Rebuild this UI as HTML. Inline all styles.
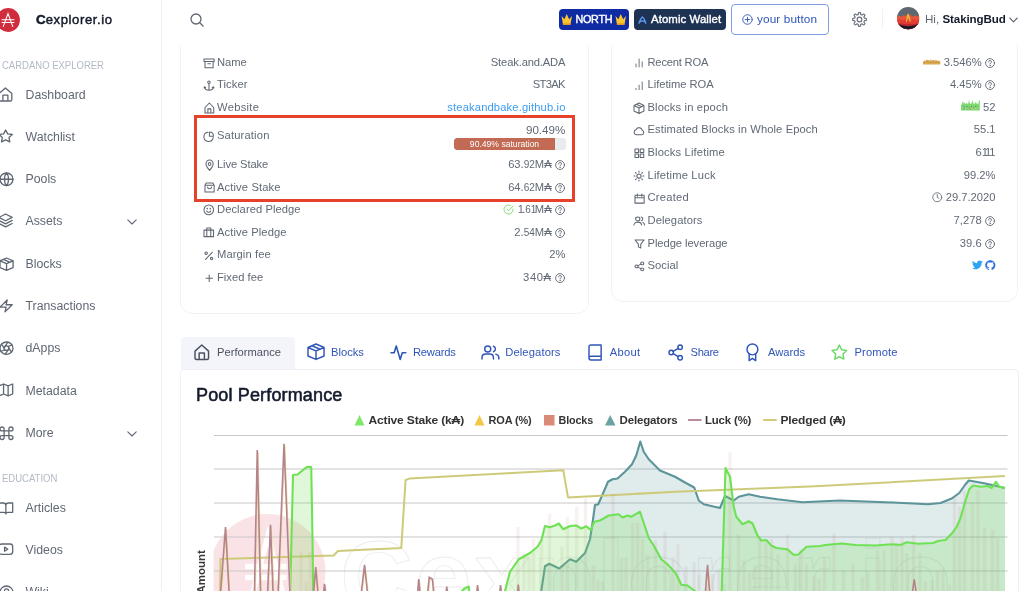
<!DOCTYPE html>
<html>
<head>
<meta charset="utf-8">
<title>Cexplorer.io</title>
<style>
*{box-sizing:border-box;margin:0;padding:0}
html,body{width:1024px;height:591px;overflow:hidden;background:#fff}
body{font-family:"Liberation Sans",sans-serif;color:#5e6773;position:relative}
.abs{position:absolute;white-space:nowrap}
svg{position:absolute;overflow:visible}
.ico{fill:none;stroke:#5f6773;stroke-width:1.3;stroke-linecap:round;stroke-linejoin:round}
/* sidebar */
#sidebar{position:absolute;left:0;top:0;width:162px;height:591px;border-right:1px solid #eef0f6;background:#fff}
.sec{position:absolute;left:2px;font-size:10.4px;color:#b3bac6;letter-spacing:0px;white-space:nowrap;line-height:12px;transform:scaleX(0.915);transform-origin:0 0}
.nav{position:absolute;left:25.5px;font-size:12.3px;color:#606874;white-space:nowrap;line-height:16px}
/* cards */
.card{position:absolute;border:1px solid #f0f2f7;background:#fff;border-radius:12px}
.row{position:absolute;left:0;right:0;height:16px;font-size:11.2px;line-height:16px;color:#606975}
.row .l{position:absolute;left:37px;top:0;white-space:nowrap}
.row .v{position:absolute;right:22.5px;top:0;white-space:nowrap;text-align:right}
.row svg.li{left:22.5px;top:2.5px;width:11px;height:11px}
.sm{font-size:10px}
.q{display:inline-block;width:10.1px;height:10.1px;vertical-align:-2.1px;margin-left:3.8px;position:relative}
/* tabs */
.tab{position:absolute;top:337px;height:31px;font-size:11.2px;line-height:31px;color:#2f55b8;white-space:nowrap}
</style>
</head>
<body>
<div id="wrap" style="position:absolute;left:0;top:0;width:1024px;height:591px;overflow:hidden;will-change:transform">

<!-- SIDEBAR -->
<div id="sidebar">
  <svg width="24" height="24" style="left:-4.200px;top:7.700px" viewBox="0 0 24 24"><circle cx="12" cy="12" r="11.900" fill="#cf2d3d"/><path d="M7.300 18.400 L12 5.600 L16.700 18.400 M6 11.800 H18 M6 14.400 H18" fill="none" stroke="#fff" stroke-width="1.050" stroke-linecap="round"/></svg>
  <div class="abs" id="brand" style="left:36px;top:10.5px;font-size:13.100px;line-height:18px;font-weight:normal;-webkit-text-stroke:0.450px #131a2b;color:#131a2b;letter-spacing:0.600px"><span style="font-size:13.400px;font-weight:bold;-webkit-text-stroke:0.500px #131a2b;letter-spacing:0">C</span>explorer.io</div>

  <!-- SIDEICONS -->
<svg style="left:-0.55px;top:87.65px;width:12.80px;height:13.00px" viewBox="3 2.5 18 19.0" preserveAspectRatio="none" fill="none" stroke="#5f6773" stroke-width="1.3" stroke-linecap="round" stroke-linejoin="round" ><path vector-effect="non-scaling-stroke" d="M3 10.500 L12 2.500 L21 10.500 V19.500 Q21 21.500 19 21.500 H5 Q3 21.500 3 19.500 Z M8.500 21.500 V13 H15.500 V21.500"/></svg>
<svg style="left:-0.55px;top:130.35px;width:13.30px;height:11.90px" viewBox="2.2 2.5 19.6 18.7" preserveAspectRatio="none" fill="none" stroke="#5f6773" stroke-width="1.3" stroke-linecap="round" stroke-linejoin="round" ><path vector-effect="non-scaling-stroke" d="M12 2.500 L15 8.600 L21.800 9.600 L16.900 14.400 L18.100 21.200 L12 18 L5.900 21.200 L7.100 14.400 L2.200 9.600 L9 8.600 Z"/></svg>
<svg style="left:0.15px;top:172.85px;width:13.00px;height:12.50px" viewBox="2.2 2.2 19.6 19.6" preserveAspectRatio="none" fill="none" stroke="#5f6773" stroke-width="1.3" stroke-linecap="round" stroke-linejoin="round" ><circle vector-effect="non-scaling-stroke" cx="12" cy="12" r="9.800"/><path vector-effect="non-scaling-stroke" d="M2.200 12 H21.800 M12 2.200 C8 6 8 18 12 21.800 M12 2.200 C16 6 16 18 12 21.800"/></svg>
<svg style="left:-0.55px;top:214.45px;width:13.20px;height:12.90px" viewBox="2 2.5 20 19.0" preserveAspectRatio="none" fill="none" stroke="#5f6773" stroke-width="1.3" stroke-linecap="round" stroke-linejoin="round" ><path vector-effect="non-scaling-stroke" d="M12 2.500 L22 7.500 L12 12.500 L2 7.500 Z M2 12 L12 17 L22 12 M2 16.500 L12 21.500 L22 16.500"/></svg>
<svg style="left:-0.45px;top:257.65px;width:13.10px;height:12.40px" viewBox="3 2 18 20" preserveAspectRatio="none" fill="none" stroke="#5f6773" stroke-width="1.3" stroke-linecap="round" stroke-linejoin="round" ><path vector-effect="non-scaling-stroke" d="M12 2 L21 6.500 V17.500 L12 22 L3 17.500 V6.500 Z M3 6.500 L12 11 L21 6.500 M12 11 V22 M7.500 4.250 L16.500 8.750"/></svg>
<svg style="left:-0.15px;top:299.85px;width:12.20px;height:11.90px" viewBox="3.5 2 17.0 20" preserveAspectRatio="none" fill="none" stroke="#5f6773" stroke-width="1.3" stroke-linecap="round" stroke-linejoin="round" ><path vector-effect="non-scaling-stroke" d="M13.500 2 L3.500 14 H12 L10.500 22 L20.500 10 H12 Z"/></svg>
<svg style="left:0.15px;top:342.05px;width:13.00px;height:12.30px" viewBox="2.2 2.2 19.6 19.6" preserveAspectRatio="none" fill="none" stroke="#5f6773" stroke-width="1.3" stroke-linecap="round" stroke-linejoin="round" ><circle vector-effect="non-scaling-stroke" cx="12" cy="12" r="9.800"/><circle vector-effect="non-scaling-stroke" cx="12" cy="12" r="3.600"/><path vector-effect="non-scaling-stroke" d="M14.500 9.400 L20.300 6.700 M15.600 12 L19.500 18.300 M14.500 14.600 L10 21.600 M9.500 14.600 L3.700 17.300 M8.400 12 L4.500 5.700 M9.500 9.400 L14 2.400"/></svg>
<svg style="left:-0.55px;top:384.15px;width:13.70px;height:11.90px" viewBox="1.5 2.5 21.0 19.0" preserveAspectRatio="none" fill="none" stroke="#5f6773" stroke-width="1.3" stroke-linecap="round" stroke-linejoin="round" ><path vector-effect="non-scaling-stroke" d="M1.5 5.500 L8.500 2.500 L15.500 5.500 L22.500 2.500 V18.500 L15.500 21.500 L8.500 18.500 L1.500 21.500 Z M8.500 2.500 V18.500 M15.500 5.500 V21.500"/></svg>
<svg style="left:0.15px;top:426.55px;width:13.00px;height:12.50px" viewBox="2.5 2.5 19.0 19.0" preserveAspectRatio="none" fill="none" stroke="#5f6773" stroke-width="1.3" stroke-linecap="round" stroke-linejoin="round" ><path vector-effect="non-scaling-stroke" d="M8.500 8.500 H15.500 V15.500 H8.500 Z M8.500 8.500 V5.500 A3 3 0 1 0 5.500 8.500 H8.500 M15.500 8.500 V5.500 A3 3 0 1 1 18.500 8.500 H15.500 M8.500 15.500 V18.500 A3 3 0 1 1 5.500 15.500 H8.500 M15.500 15.500 V18.500 A3 3 0 1 0 18.500 15.500 H15.500"/></svg>
<svg style="left:-0.55px;top:502.55px;width:13.70px;height:10.90px" viewBox="1.5 3.5 21.0 17.5" preserveAspectRatio="none" fill="none" stroke="#5f6773" stroke-width="1.3" stroke-linecap="round" stroke-linejoin="round" ><path vector-effect="non-scaling-stroke" d="M1.500 3.500 H8 Q12 3.500 12 7 Q12 3.500 16 3.500 H22.500 V18.500 H15 Q12 18.500 12 21 Q12 18.500 9 18.500 H1.500 Z M12 7 V21"/></svg>
<svg style="left:-0.55px;top:544.45px;width:13.70px;height:10.40px" viewBox="1.5 4.5 21.0 15.0" preserveAspectRatio="none" fill="none" stroke="#5f6773" stroke-width="1.3" stroke-linecap="round" stroke-linejoin="round" ><rect vector-effect="non-scaling-stroke" x="1.500" y="4.500" width="21" height="15" rx="4"/><path vector-effect="non-scaling-stroke" d="M10 9 L15 12 L10 15 Z"/></svg>
<svg style="left:0.15px;top:585.85px;width:13.00px;height:12.70px" viewBox="2.2 2.2 19.6 19.6" preserveAspectRatio="none" fill="none" stroke="#5f6773" stroke-width="1.3" stroke-linecap="round" stroke-linejoin="round" ><circle vector-effect="non-scaling-stroke" cx="12" cy="12" r="9.800"/><path vector-effect="non-scaling-stroke" d="M9 9.500 C9 7.500 10.300 6.500 12 6.500 C13.700 6.500 15 7.600 15 9.300 C15 11.600 12 11.600 12 14"/></svg>
<svg class="ico" style="left:127px;top:218.5px;width:10px;height:6px;stroke-width:1.100" viewBox="0 0 10 6"><path d="M0.800 0.800 L5 5 L9.200 0.800"/></svg>
<svg class="ico" style="left:127px;top:430.5px;width:10px;height:6px;stroke-width:1.100" viewBox="0 0 10 6"><path d="M0.800 0.800 L5 5 L9.200 0.800"/></svg>

<!-- /SIDEICONS -->
  <div class="sec" style="top:60.4px">CARDANO EXPLORER</div>
  <div class="nav" style="top:86.5px">Dashboard</div>
  <div class="nav" style="top:128.5px">Watchlist</div>
  <div class="nav" style="top:171px">Pools</div>
  <div class="nav" style="top:213px">Assets</div>
  <div class="nav" style="top:255.5px">Blocks</div>
  <div class="nav" style="top:298px">Transactions</div>
  <div class="nav" style="top:340px">dApps</div>
  <div class="nav" style="top:382.5px">Metadata</div>
  <div class="nav" style="top:425px">More</div>
  <div class="sec" style="top:472.5px">EDUCATION</div>
  <div class="nav" style="top:499.5px">Articles</div>
  <div class="nav" style="top:541.5px">Videos</div>
  <div class="nav" style="top:584px">Wiki</div>
</div>

<!-- HEADER -->
<div id="header" style="position:absolute;left:163px;top:0;width:861px;height:45px;background:#fff;z-index:5"><div style="position:absolute;left:-163px;top:0;width:1024px;height:45px">
  <svg class="ico" width="14" height="14" style="left:189.5px;top:13px" viewBox="0 0 14 14"><circle cx="6" cy="6" r="5"/><path d="M9.8 9.8 L13 13"/></svg>
  <!-- NORTH badge -->
  <div class="abs" style="left:559px;top:8.5px;width:69.5px;height:21px;background:#0f2ba3;border-radius:4px"></div>
  <svg width="11.5" height="12.4" preserveAspectRatio="none" style="left:561px;top:13px" viewBox="0 0 22 20"><path d="M1 5 L6.5 10 L11 1.5 L15.5 10 L21 5 L18.5 17 H3.5 Z" fill="#f7c531"/><rect x="3.5" y="16" width="15" height="3.2" fill="#f0a91c"/></svg>
  <div class="abs" id="north" style="left:575.5px;top:11px;font-size:10.8px;line-height:16px;color:#fff;font-weight:normal;-webkit-text-stroke:0.400px #fff;letter-spacing:-0.300px">NORTH</div>
  <svg width="11.5" height="12.4" preserveAspectRatio="none" style="left:614.6px;top:13px" viewBox="0 0 22 20"><path d="M1 5 L6.5 10 L11 1.5 L15.5 10 L21 5 L18.5 17 H3.5 Z" fill="#f7c531"/><rect x="3.5" y="16" width="15" height="3.2" fill="#f0a91c"/></svg>
  <!-- Atomic Wallet -->
  <div class="abs" style="left:634px;top:8.5px;width:91.5px;height:21px;background:#1e3354;border-radius:4px"></div>
  <svg width="8.800" height="8.200" preserveAspectRatio="none" style="left:638px;top:15.800px" viewBox="0 0 18 18"><path d="M2 16 C4 9 6.5 4 9 2 C11.500 4 14 9 16 16 M5 12.5 C7.500 10.500 10.500 10.500 13 12.5" fill="none" stroke="#5d9df5" stroke-width="2.6" stroke-linecap="round"/></svg>
  <div class="abs" id="atomic" style="left:651px;top:11px;font-size:11.400px;line-height:16px;color:#fff;font-weight:normal;-webkit-text-stroke:0.380px #fff;letter-spacing:0.080px">Atomic Wallet</div>
  <!-- your button -->
  <div class="abs" style="left:731px;top:4px;width:98px;height:30.5px;border:1px solid #7f9de3;border-radius:4px;background:#fff"></div>
  <svg width="11" height="11" style="left:742.3px;top:14px" viewBox="0 0 22 22" fill="none" stroke="#2f55b8" stroke-width="1.8" stroke-linecap="round"><circle cx="11" cy="11" r="9.500"/><path d="M11 6.5 V15.5 M6.5 11 H15.5"/></svg>
  <div class="abs" id="yourbtn" style="left:757px;top:11px;font-size:11.8px;letter-spacing:0.1px;line-height:16px;color:#2f55b8">your button</div>
  <!-- gear -->
  <svg style="left:0;top:0;width:1024px;height:45px" viewBox="0 0 1024 45" fill="none" stroke="#666e79" stroke-width="1.150" stroke-linejoin="round"><path d="M859.50 12.55 L859.77 12.56 L860.04 12.57 L860.31 12.60 L860.53 12.95 L860.66 13.61 L860.74 14.27 L860.86 14.64 L861.05 14.69 L861.23 14.76 L861.41 14.83 L861.59 14.91 L861.77 14.99 L861.94 15.09 L862.28 14.91 L862.81 14.50 L863.37 14.13 L863.77 14.03 L863.98 14.20 L864.18 14.38 L864.38 14.57 L864.57 14.77 L864.75 14.97 L864.92 15.18 L864.82 15.58 L864.45 16.14 L864.04 16.67 L863.86 17.01 L863.96 17.18 L864.04 17.36 L864.12 17.54 L864.19 17.72 L864.26 17.90 L864.31 18.09 L864.68 18.21 L865.34 18.29 L866.00 18.42 L866.35 18.64 L866.38 18.91 L866.39 19.18 L866.40 19.45 L866.39 19.72 L866.38 19.99 L866.35 20.26 L866.00 20.48 L865.34 20.61 L864.68 20.69 L864.31 20.81 L864.26 21.00 L864.19 21.18 L864.12 21.36 L864.04 21.54 L863.96 21.72 L863.86 21.89 L864.04 22.23 L864.45 22.76 L864.82 23.32 L864.92 23.72 L864.75 23.93 L864.57 24.13 L864.38 24.33 L864.18 24.52 L863.98 24.70 L863.77 24.87 L863.37 24.77 L862.81 24.40 L862.28 23.99 L861.94 23.81 L861.77 23.91 L861.59 23.99 L861.41 24.07 L861.23 24.14 L861.05 24.21 L860.86 24.26 L860.74 24.63 L860.66 25.29 L860.53 25.95 L860.31 26.30 L860.04 26.33 L859.77 26.34 L859.50 26.35 L859.23 26.34 L858.96 26.33 L858.69 26.30 L858.47 25.95 L858.34 25.29 L858.26 24.63 L858.14 24.26 L857.95 24.21 L857.77 24.14 L857.59 24.07 L857.41 23.99 L857.23 23.91 L857.06 23.81 L856.72 23.99 L856.19 24.40 L855.63 24.77 L855.23 24.87 L855.02 24.70 L854.82 24.52 L854.62 24.33 L854.43 24.13 L854.25 23.93 L854.08 23.72 L854.18 23.32 L854.55 22.76 L854.96 22.23 L855.14 21.89 L855.04 21.72 L854.96 21.54 L854.88 21.36 L854.81 21.18 L854.74 21.00 L854.69 20.81 L854.32 20.69 L853.66 20.61 L853.00 20.48 L852.65 20.26 L852.62 19.99 L852.61 19.72 L852.60 19.45 L852.61 19.18 L852.62 18.91 L852.65 18.64 L853.00 18.42 L853.66 18.29 L854.32 18.21 L854.69 18.09 L854.74 17.90 L854.81 17.72 L854.88 17.54 L854.96 17.36 L855.04 17.18 L855.14 17.01 L854.96 16.67 L854.55 16.14 L854.18 15.58 L854.08 15.18 L854.25 14.97 L854.43 14.77 L854.62 14.57 L854.82 14.38 L855.02 14.20 L855.23 14.03 L855.63 14.13 L856.19 14.50 L856.72 14.91 L857.06 15.09 L857.23 14.99 L857.41 14.91 L857.59 14.83 L857.77 14.76 L857.95 14.69 L858.14 14.64 L858.26 14.27 L858.34 13.61 L858.47 12.95 L858.69 12.60 L858.96 12.57 L859.23 12.56 Z"/><circle cx="859.5" cy="19.45" r="2.350"/></svg>
  <div class="abs" style="left:882.2px;top:9px;width:1px;height:18.500px;background:#eef1f7"></div>
  <!-- avatar -->
  <svg width="22.400" height="22.400" style="left:896.700px;top:7px" viewBox="0 0 22 22"><defs><clipPath id="av"><circle cx="11" cy="11" r="11"/></clipPath></defs><g clip-path="url(#av)"><rect width="22" height="22" fill="#5d6870"/><path d="M0 9 L2 8.500 L4 9.500 L6 8 L8 9 L9.500 7.500 L11 6.500 L12.500 8.500 L14 8 L16 9.500 L18 8 L20 9 L22 8 V22 H0 Z" fill="#e9553b"/><path d="M0 12.500 L3 12 L6 13 L9 12 L13 13 L16 12 L19 13 L22 12 V22 H0 Z" fill="#e23c33"/><path d="M0 16.500 L4 16 L8 17 L12 16.500 L16 17 L20 16 L22 16.500 V22 H0 Z" fill="#c4272d"/><path d="M0 16.500 Q11 21.300 22 16.500 V22 H0 Z" fill="#1c1828"/><path d="M9.300 14 L11 6.800 L12.900 14 M10 9.500 L12.500 11.500" fill="none" stroke="#e9b83a" stroke-width="1.200" stroke-linecap="round"/></g></svg>
  <div class="abs" id="hi" style="left:925px;top:11px;font-size:11.6px;line-height:16px;color:#5e6773">Hi, <b style="color:#131a2b;letter-spacing:-0.1px">StakingBud</b></div>
  <svg class="ico" width="9" height="6" style="left:1009px;top:16.5px" viewBox="0 0 9 6"><path d="M0.8 1 L4.500 4.800 L8.200 1" stroke-width="1.1"/></svg>
</div></div>

<!-- LEFT CARD -->
<div class="card" id="card1" style="left:180px;top:-20px;width:408.5px;height:334px"></div>
<!-- RIGHT CARD -->
<div class="card" id="card2" style="left:610.5px;top:-20px;width:407.5px;height:321.5px"></div>

<!-- ROWS -->
<svg style="left:204.03px;top:58.62px;width:10.15px;height:8.75px" viewBox="1.5 2.5 11.0 9.5" preserveAspectRatio="none" fill="none" stroke="#5f6773" stroke-width="1.05" stroke-linecap="round" stroke-linejoin="round" ><path vector-effect="non-scaling-stroke" d="M1.5 2.500 H12.500 V5.200 H1.5 Z M2.600 5.200 V12 H11.400 V5.200 M5.600 7.600 H8.400"/></svg><div class="row" style="left:180px;width:408px;top:53.6px"><span class="l" style="letter-spacing:-0.013px">Name</span><span class="v"><span style="letter-spacing:-0.150px;margin-right:0.150px">Steak.and.ADA</span></span></div>
<svg style="left:204.22px;top:81.43px;width:9.95px;height:9.25px" viewBox="1 1.3 12 11.2" preserveAspectRatio="none" fill="none" stroke="#5f6773" stroke-width="1.05" stroke-linecap="round" stroke-linejoin="round" ><circle vector-effect="non-scaling-stroke" cx="7" cy="2.800" r="1.5"/><path vector-effect="non-scaling-stroke" d="M7 4.300 V12.500 M1.8 8.500 C1.8 11 4.200 12.500 7 12.500 C9.800 12.500 12.200 11 12.200 8.500 M1 9.500 L1.8 8.300 L3 9.300 M11 9.300 L12.200 8.300 L13 9.500"/></svg><div class="row" style="left:180px;width:408px;top:76.1px"><span class="l" style="letter-spacing:0.083px">Ticker</span><span class="v"><span style="letter-spacing:-0.650px;margin-right:0.650px">ST3AK</span></span></div>
<svg style="left:204.62px;top:102.93px;width:8.75px;height:9.95px" viewBox="1.8 1.6 10.399999999999999 10.8" preserveAspectRatio="none" fill="none" stroke="#5f6773" stroke-width="1.05" stroke-linecap="round" stroke-linejoin="round" ><path vector-effect="non-scaling-stroke" d="M1.8 6.500 L7 1.6 L12.200 6.500 V12.400 H1.8 Z M5.200 12.400 V8 H8.800 V12.400"/></svg><div class="row" style="left:180px;width:408px;top:98.6px"><span class="l" style="letter-spacing:0.293px">Website</span><span class="v"><span style="color:#3d9df0;letter-spacing:0.140px">steakandbake.github.io</span></span></div>
<svg style="left:204.22px;top:131.72px;width:9.55px;height:9.55px" viewBox="1.3 1.3 11.5 11.7" preserveAspectRatio="none" fill="none" stroke="#5f6773" stroke-width="1.05" stroke-linecap="round" stroke-linejoin="round" ><path vector-effect="non-scaling-stroke" d="M12.300 8.200 A5.600 5.600 0 1 1 6 1.7 M7.800 1.3 V6.400 H12.800 A5.200 5.200 0 0 0 7.800 1.300 Z"/></svg><div class="row" style="left:180px;width:408px;top:127.1px"><span class="l" style="letter-spacing:0.15px">Saturation</span><span class="v"></span></div>
<svg style="left:205.62px;top:160.12px;width:7.15px;height:10.35px" viewBox="2.3 1 9.399999999999999 12" preserveAspectRatio="none" fill="none" stroke="#5f6773" stroke-width="1.05" stroke-linecap="round" stroke-linejoin="round" ><path vector-effect="non-scaling-stroke" d="M7 13 C4 10 2.300 8 2.300 5.700 A4.700 4.700 0 0 1 11.700 5.700 C11.700 8 10 10 7 13 Z"/><circle vector-effect="non-scaling-stroke" cx="7" cy="5.700" r="1.7"/></svg><div class="row" style="left:180px;width:408px;top:156.1px"><span class="l" style="letter-spacing:-0.105px">Live Stake</span><span class="v">63.<span class="sm">92</span>M₳<svg class="q" viewBox="0 0 20 20" fill="none" stroke="#5f6773" stroke-width="1.800" stroke-linecap="round"><circle cx="10" cy="10" r="8.800"/><path d="M7.200 7.800 C7.200 6 8.400 5 10 5 C11.600 5 12.800 6 12.800 7.600 C12.800 9.700 10 9.700 10 11.800" stroke-width="1.900"/><circle cx="10" cy="14.800" r="0.700" fill="#5f6773" stroke-width="1"/></svg></span></div>
<svg style="left:204.62px;top:183.12px;width:9.15px;height:9.05px" viewBox="2 1.6 10 10.9" preserveAspectRatio="none" fill="none" stroke="#5f6773" stroke-width="1.05" stroke-linecap="round" stroke-linejoin="round" ><path vector-effect="non-scaling-stroke" d="M2 4.200 H12 V12.500 H2 Z M2 4.200 L3.300 1.600 H10.700 L12 4.200 M4.800 6.500 C4.800 9.300 9.200 9.300 9.200 6.500"/></svg><div class="row" style="left:180px;width:408px;top:178.6px"><span class="l" style="letter-spacing:0.117px">Active Stake</span><span class="v">64.<span class="sm">62</span>M₳<svg class="q" viewBox="0 0 20 20" fill="none" stroke="#5f6773" stroke-width="1.800" stroke-linecap="round"><circle cx="10" cy="10" r="8.800"/><path d="M7.200 7.800 C7.200 6 8.400 5 10 5 C11.600 5 12.800 6 12.800 7.600 C12.800 9.700 10 9.700 10 11.800" stroke-width="1.900"/><circle cx="10" cy="14.800" r="0.700" fill="#5f6773" stroke-width="1"/></svg></span></div>
<svg style="left:204.22px;top:205.43px;width:9.55px;height:9.75px" viewBox="1.3 1.3 11.399999999999999 11.399999999999999" preserveAspectRatio="none" fill="none" stroke="#5f6773" stroke-width="1.05" stroke-linecap="round" stroke-linejoin="round" ><circle vector-effect="non-scaling-stroke" cx="7" cy="7" r="5.700"/><path vector-effect="non-scaling-stroke" d="M4.600 8.300 C5.500 10.400 8.500 10.400 9.400 8.300"/><circle vector-effect="non-scaling-stroke" cx="5.200" cy="5.600" r="0.350" fill="#5f6773"/><circle vector-effect="non-scaling-stroke" cx="8.800" cy="5.600" r="0.350" fill="#5f6773"/></svg><div class="row" style="left:180px;width:408px;top:201.1px"><span class="l" style="letter-spacing:0.06px">Declared Pledge</span><span class="v"><svg style="position:relative;width:11px;height:11px;vertical-align:-1.5px;margin-right:3.500px" viewBox="0 0 22 22" fill="none" stroke="#6fdc5c" stroke-width="1.8" stroke-linecap="round" stroke-linejoin="round"><path d="M20 10.200 V11 A9 9 0 1 1 14.700 2.800"/><path d="M20.500 4 L11 13.500 L8 10.500"/></svg><span style="letter-spacing:-1.700px">1</span>.<span class="sm">6<span style="letter-spacing:-1.600px">1</span></span>M₳<svg class="q" viewBox="0 0 20 20" fill="none" stroke="#5f6773" stroke-width="1.800" stroke-linecap="round"><circle cx="10" cy="10" r="8.800"/><path d="M7.200 7.800 C7.200 6 8.400 5 10 5 C11.600 5 12.800 6 12.800 7.600 C12.800 9.700 10 9.700 10 11.800" stroke-width="1.900"/><circle cx="10" cy="14.800" r="0.700" fill="#5f6773" stroke-width="1"/></svg></span></div>
<svg style="left:204.22px;top:228.43px;width:9.55px;height:8.65px" viewBox="1.3 2.3 11.399999999999999 10.100000000000001" preserveAspectRatio="none" fill="none" stroke="#5f6773" stroke-width="1.05" stroke-linecap="round" stroke-linejoin="round" ><path vector-effect="non-scaling-stroke" d="M1.3 4.800 H12.700 V12.400 H1.3 Z M4.600 4.800 V2.300 H9.400 V4.800 M4.600 4.800 V12.400 M9.400 4.800 V12.400"/></svg><div class="row" style="left:180px;width:408px;top:223.6px"><span class="l" style="letter-spacing:0.092px">Active Pledge</span><span class="v">2.<span class="sm">54</span>M₳<svg class="q" viewBox="0 0 20 20" fill="none" stroke="#5f6773" stroke-width="1.800" stroke-linecap="round"><circle cx="10" cy="10" r="8.800"/><path d="M7.200 7.800 C7.200 6 8.400 5 10 5 C11.600 5 12.800 6 12.800 7.600 C12.800 9.700 10 9.700 10 11.800" stroke-width="1.900"/><circle cx="10" cy="14.800" r="0.700" fill="#5f6773" stroke-width="1"/></svg></span></div>
<svg style="left:205.03px;top:251.72px;width:7.75px;height:7.75px" viewBox="2.4 2.4 9.2 9.2" preserveAspectRatio="none" fill="none" stroke="#5f6773" stroke-width="1.05" stroke-linecap="round" stroke-linejoin="round" ><path vector-effect="non-scaling-stroke" d="M11 2.800 L3 11.200"/><circle vector-effect="non-scaling-stroke" cx="3.800" cy="3.800" r="1.4"/><circle vector-effect="non-scaling-stroke" cx="10.200" cy="10.200" r="1.4"/></svg><div class="row" style="left:180px;width:408px;top:246.1px"><span class="l" style="letter-spacing:0.09px">Margin fee</span><span class="v">2%</span></div>
<svg style="left:205.62px;top:275.12px;width:6.45px;height:6.45px" viewBox="2.5 2.5 9.0 9.0" preserveAspectRatio="none" fill="none" stroke="#5f6773" stroke-width="1.05" stroke-linecap="round" stroke-linejoin="round" ><path vector-effect="non-scaling-stroke" d="M7 2.500 V11.500 M2.500 7 H11.500"/></svg><div class="row" style="left:180px;width:408px;top:268.6px"><span class="l" style="letter-spacing:0.022px">Fixed fee</span><span class="v"><span style="letter-spacing:0.600px">340₳</span><svg class="q" viewBox="0 0 20 20" fill="none" stroke="#5f6773" stroke-width="1.800" stroke-linecap="round"><circle cx="10" cy="10" r="8.800"/><path d="M7.200 7.800 C7.200 6 8.400 5 10 5 C11.600 5 12.800 6 12.800 7.600 C12.800 9.700 10 9.700 10 11.800" stroke-width="1.900"/><circle cx="10" cy="14.800" r="0.700" fill="#5f6773" stroke-width="1"/></svg></span></div>
<svg style="left:635.75px;top:58.95px;width:6.20px;height:7.90px" viewBox="3.5 2.5 7.0 9.5" preserveAspectRatio="none" fill="none" stroke="#5f6773" stroke-width="0.9" stroke-linecap="round" stroke-linejoin="round" ><path vector-effect="non-scaling-stroke" d="M3.500 8.500 V12 M7 2.500 V12 M10.500 6 V12"/></svg><div class="row" style="left:610.5px;width:407.5px;top:53.6px"><span class="l" style="letter-spacing:-0.21px">Recent ROA</span><span class="v"><svg style="position:relative;width:17.300px;height:5.500px;vertical-align:0.800px;margin-right:3px" viewBox="0 0 17.3 5.5"><path d="M0 5.500 V3.200 L0.800 2 L1.600 1.200 L2.400 2.200 L3.200 1 L4 0.300 L4.800 1.600 L5.600 0.800 L6.400 2 L7.200 0.600 L8 1.800 L8.800 0.400 L9.600 1.600 L10.400 0.700 L11.200 2 L12 0.500 L12.800 1.700 L13.600 0.900 L14.400 2.200 L15.200 1.200 L16 2.400 L16.800 1.800 L17.300 2.800 V5.500 Z" fill="#d5ab4e"/><path d="M1.500 3.200 h.9 M4.300 2.600 h.9 M7 3.300 h.9 M9.800 2.700 h.9 M12.500 3.300 h.9 M15 3 h.9" stroke="#d0604a" stroke-width="0.900" fill="none"/></svg>3.546%<svg class="q" viewBox="0 0 20 20" fill="none" stroke="#5f6773" stroke-width="1.800" stroke-linecap="round"><circle cx="10" cy="10" r="8.800"/><path d="M7.200 7.800 C7.200 6 8.400 5 10 5 C11.600 5 12.800 6 12.800 7.600 C12.800 9.700 10 9.700 10 11.800" stroke-width="1.900"/><circle cx="10" cy="14.800" r="0.700" fill="#5f6773" stroke-width="1"/></svg></span></div>
<svg style="left:635.75px;top:81.55px;width:6.20px;height:7.60px" viewBox="3.5 2.5 7.0 9.5" preserveAspectRatio="none" fill="none" stroke="#5f6773" stroke-width="0.9" stroke-linecap="round" stroke-linejoin="round" ><path vector-effect="non-scaling-stroke" d="M3.500 10.500 V12 M7 6.500 V12 M10.500 2.500 V12"/></svg><div class="row" style="left:610.5px;width:407.5px;top:76.1px"><span class="l" style="letter-spacing:-0.025px">Lifetime ROA</span><span class="v">4.45%<svg class="q" viewBox="0 0 20 20" fill="none" stroke="#5f6773" stroke-width="1.800" stroke-linecap="round"><circle cx="10" cy="10" r="8.800"/><path d="M7.200 7.800 C7.200 6 8.400 5 10 5 C11.600 5 12.800 6 12.800 7.600 C12.800 9.700 10 9.700 10 11.800" stroke-width="1.900"/><circle cx="10" cy="14.800" r="0.700" fill="#5f6773" stroke-width="1"/></svg></span></div>
<svg style="left:634.23px;top:102.93px;width:9.95px;height:10.55px" viewBox="1.7 1.3 10.600000000000001 11.399999999999999" preserveAspectRatio="none" fill="none" stroke="#5f6773" stroke-width="1.05" stroke-linecap="round" stroke-linejoin="round" ><path vector-effect="non-scaling-stroke" d="M7 1.3 L12.300 4 V10 L7 12.700 L1.7 10 V4 Z M1.7 4 L7 6.800 L12.300 4 M7 6.800 V12.700 M4.300 2.700 L9.700 5.400"/></svg><div class="row" style="left:610.5px;width:407.5px;top:98.6px"><span class="l" style="letter-spacing:0.147px">Blocks in epoch</span><span class="v"><svg style="position:relative;width:18.800px;height:11.500px;vertical-align:0.600px;margin-right:3.600px" viewBox="0 0 18.8 11.5"><path d="M0 11.500 V6 L1 5 L1.800 1.500 L2.600 4.500 L3.600 3.500 L4.600 5 L5.600 4 L6.600 5 L7.400 4 L8 0.300 L8.800 4.500 L10 5 L11 3.500 L11.600 0.800 L12.400 4.500 L13.400 5 L14.400 3 L15.400 4 L16.400 5 L17.400 4.500 L18 1 L18.800 1.500 V11.500 Z" fill="#7fd970"/><path d="M2.200 7 h.8 M3.200 8.500 h.8 M2.600 10 h.8" stroke="#4a78c8" stroke-width="0.800" fill="none"/><path d="M5.500 7.500 h.9 M7.800 8.800 h.9 M10 7.300 h.9 M12.200 8.800 h.9 M14.400 7.400 h.9 M9 10 h.9 M6.500 9.800 h.9" stroke="#3d6a3a" stroke-width="0.900" fill="none"/><path d="M4 9.500 h11" stroke="#b9c98a" stroke-width="1.500" opacity="0.600" fill="none"/></svg>52</span></div>
<svg style="left:634.23px;top:126.62px;width:9.95px;height:7.75px" viewBox="0.8 2.6 12.6 9.200000000000001" preserveAspectRatio="none" fill="none" stroke="#5f6773" stroke-width="1.05" stroke-linecap="round" stroke-linejoin="round" ><path vector-effect="non-scaling-stroke" d="M3.800 11.800 A3 3 0 0 1 3.300 5.900 A4.200 4.200 0 0 1 11.300 6.800 A2.550 2.550 0 0 1 10.800 11.800 Z"/></svg><div class="row" style="left:610.5px;width:407.5px;top:121.1px"><span class="l" style="letter-spacing:0.1px">Estimated Blocks in Whole Epoch</span><span class="v">55.1</span></div>
<svg style="left:635.02px;top:149.03px;width:8.75px;height:8.45px" viewBox="1.8 1.8 10.399999999999999 10.399999999999999" preserveAspectRatio="none" fill="none" stroke="#5f6773" stroke-width="1.05" stroke-linecap="round" stroke-linejoin="round" ><path vector-effect="non-scaling-stroke" d="M1.8 1.8 H6 V6 H1.8 Z M8 1.8 H12.200 V6 H8 Z M1.8 8 H6 V12.200 H1.8 Z M8 8 H12.200 V12.200 H8 Z"/></svg><div class="row" style="left:610.5px;width:407.5px;top:144.1px"><span class="l" style="letter-spacing:0.147px">Blocks Lifetime</span><span class="v">6<span style="letter-spacing:-2px">11</span>1</span></div>
<svg style="left:634.23px;top:170.72px;width:9.95px;height:10.05px" viewBox="0.8 0.8 12.399999999999999 12.399999999999999" preserveAspectRatio="none" fill="none" stroke="#5f6773" stroke-width="1.05" stroke-linecap="round" stroke-linejoin="round" ><circle vector-effect="non-scaling-stroke" cx="7" cy="7" r="2.600"/><path vector-effect="non-scaling-stroke" d="M7 .8 V2.200 M7 11.800 V13.200 M.8 7 H2.200 M11.800 7 H13.200 M2.600 2.600 L3.600 3.600 M10.400 10.400 L11.400 11.400 M2.600 11.400 L3.600 10.400 M10.400 3.600 L11.400 2.600"/></svg><div class="row" style="left:610.5px;width:407.5px;top:166.6px"><span class="l" style="letter-spacing:0.177px">Lifetime Luck</span><span class="v">99.2%</span></div>
<svg style="left:634.62px;top:194.03px;width:9.15px;height:9.15px" viewBox="1.8 1.4 10.399999999999999 11.0" preserveAspectRatio="none" fill="none" stroke="#5f6773" stroke-width="1.05" stroke-linecap="round" stroke-linejoin="round" ><path vector-effect="non-scaling-stroke" d="M1.8 3 H12.200 V12.400 H1.8 Z M1.8 6 H12.200 M4.500 1.4 V4 M9.500 1.4 V4"/></svg><div class="row" style="left:610.5px;width:407.5px;top:189.1px"><span class="l" style="letter-spacing:0.229px">Created</span><span class="v"><svg style="position:relative;width:10.500px;height:10.500px;vertical-align:-1.5px;margin-right:3px" viewBox="0 0 20 20" fill="none" stroke="#5f6773" stroke-width="1.6" stroke-linecap="round"><circle cx="10" cy="10" r="8.600"/><path d="M10 5 V10 L13 11.800"/></svg>29.7.2020</span></div>
<svg style="left:634.23px;top:217.43px;width:10.55px;height:8.05px" viewBox="0.8 1.8 12.399999999999999 10.7" preserveAspectRatio="none" fill="none" stroke="#5f6773" stroke-width="1.05" stroke-linecap="round" stroke-linejoin="round" ><circle vector-effect="non-scaling-stroke" cx="5.200" cy="4.300" r="2.500"/><path vector-effect="non-scaling-stroke" d="M.8 12.500 C.8 9.800 2.800 8.600 5.200 8.600 C7.600 8.600 9.600 9.800 9.600 12.500 M9.300 1.9 A2.500 2.500 0 0 1 9.300 6.700 M11.300 9 C12.500 9.600 13.200 10.800 13.200 12.500"/></svg><div class="row" style="left:610.5px;width:407.5px;top:211.6px"><span class="l" style="letter-spacing:0.09px">Delegators</span><span class="v">7,278<svg class="q" viewBox="0 0 20 20" fill="none" stroke="#5f6773" stroke-width="1.800" stroke-linecap="round"><circle cx="10" cy="10" r="8.800"/><path d="M7.200 7.800 C7.200 6 8.400 5 10 5 C11.600 5 12.800 6 12.800 7.600 C12.800 9.700 10 9.700 10 11.800" stroke-width="1.900"/><circle cx="10" cy="14.800" r="0.700" fill="#5f6773" stroke-width="1"/></svg></span></div>
<svg style="left:634.62px;top:239.72px;width:9.15px;height:8.05px" viewBox="1.6 2 10.8 10.3" preserveAspectRatio="none" fill="none" stroke="#5f6773" stroke-width="1.05" stroke-linecap="round" stroke-linejoin="round" ><path vector-effect="non-scaling-stroke" d="M1.6 2 H12.400 L8.400 7.200 V12.300 L5.600 10.800 V7.200 Z"/></svg><div class="row" style="left:610.5px;width:407.5px;top:234.6px"><span class="l" style="letter-spacing:-0.06px">Pledge leverage</span><span class="v">39.6<svg class="q" viewBox="0 0 20 20" fill="none" stroke="#5f6773" stroke-width="1.800" stroke-linecap="round"><circle cx="10" cy="10" r="8.800"/><path d="M7.200 7.800 C7.200 6 8.400 5 10 5 C11.600 5 12.800 6 12.800 7.600 C12.800 9.700 10 9.700 10 11.800" stroke-width="1.900"/><circle cx="10" cy="14.800" r="0.700" fill="#5f6773" stroke-width="1"/></svg></span></div>
<svg style="left:635.02px;top:262.42px;width:8.75px;height:8.75px" viewBox="1.6 1.1 10.8 11.8" preserveAspectRatio="none" fill="none" stroke="#5f6773" stroke-width="1.05" stroke-linecap="round" stroke-linejoin="round" ><circle vector-effect="non-scaling-stroke" cx="3.500" cy="7" r="1.9"/><circle vector-effect="non-scaling-stroke" cx="10.500" cy="3" r="1.9"/><circle vector-effect="non-scaling-stroke" cx="10.500" cy="11" r="1.9"/><path vector-effect="non-scaling-stroke" d="M5.200 6 L8.800 4 M5.200 8 L8.800 10"/></svg><div class="row" style="left:610.5px;width:407.5px;top:257.1px"><span class="l" style="letter-spacing:0.033px">Social</span><span class="v"><svg style="position:relative;width:11px;height:10px;vertical-align:-1px;margin-right:2px" viewBox="0 0 24 20"><path d="M23.500 2.500 c-.9.400-1.800.600-2.800.800 1-.6 1.800-1.500 2.100-2.700-1 .6-2 1-3.100 1.200 C18.800.7 17.500.1 16.100.1 c-2.700 0-4.800 2.200-4.800 4.800 0 .4 0 .8.100 1.100 C7.400 5.800 3.900 3.900 1.500.9 1.100 1.600.9 2.500.9 3.400 c0 1.700.9 3.200 2.200 4-.8 0-1.600-.2-2.200-.6 v.1 c0 2.300 1.700 4.300 3.900 4.700-.4.100-.8.200-1.300.200-.3 0-.6 0-.9-.1.600 1.900 2.400 3.300 4.500 3.400-1.700 1.300-3.700 2.100-6 2.100-.4 0-.8 0-1.200-.1 2.100 1.400 4.700 2.200 7.400 2.200 8.900 0 13.700-7.400 13.700-13.700 v-.6 c.9-.7 1.700-1.500 2.400-2.500 z" fill="#2ea3f2"/></svg><svg style="position:relative;width:10.500px;height:10.500px;vertical-align:-1.5px" viewBox="0 0 24 24"><path d="M12 .5 C5.600.5.500 5.600.500 12 c0 5.100 3.300 9.400 7.900 10.900.6.100.8-.3.800-.6 v-2 c-3.200.7-3.900-1.500-3.900-1.500-.5-1.300-1.300-1.700-1.300-1.700-1-.7.100-.7.100-.7 1.200.1 1.800 1.200 1.800 1.200 1 1.800 2.700 1.300 3.400 1 .1-.8.400-1.300.7-1.600-2.600-.3-5.200-1.300-5.200-5.700 0-1.300.5-2.300 1.200-3.100-.1-.3-.5-1.500.1-3.100 0 0 1-.3 3.200 1.200.9-.3 1.900-.4 2.900-.4 s2 .1 2.900.4 c2.200-1.500 3.200-1.200 3.200-1.200.6 1.600.2 2.800.1 3.100.7.800 1.200 1.800 1.200 3.100 0 4.400-2.700 5.400-5.300 5.700.4.400.8 1.100.8 2.200 v3.200 c0 .3.200.7.800.6 4.600-1.500 7.900-5.800 7.900-10.900 C23.500 5.600 18.400.5 12 .5 z" fill="#2f6fde"/></svg></span></div>
<div class="abs" style="left:400px;width:165.300px;top:121.5px;text-align:right;font-size:11.6px;line-height:16px;color:#5e6773">90.49%</div>
<div class="abs" style="left:454px;top:138px;width:111.5px;height:12px;border-radius:3px;background:#e9ecef;overflow:hidden"><div style="width:101px;height:12px;background:#c26a54;border-radius:3px 0 0 3px;color:#fff;font-size:8.600px;line-height:12px;text-align:center">90.49% saturation</div></div>
<div class="abs" style="left:194.300px;top:114.800px;width:381.100px;height:86.900px;border:3.900px solid #e8412a"></div>

<!-- /ROWS -->

<!-- TABS -->
<div id="tabs">
<div class="abs" style="left:180.500px;top:337px;width:114px;height:32px;background:#f4f5fa;border-radius:4px 4px 0 0"></div>
<svg style="left:194.97px;top:345.23px;width:13.55px;height:14.55px" viewBox="3 2.5 18 19.0" preserveAspectRatio="none" fill="none" stroke="#4a5160" stroke-width="1.45" stroke-linecap="round" stroke-linejoin="round" ><path vector-effect="non-scaling-stroke" d="M3 10.500 L12 2.500 L21 10.500 V19.500 Q21 21.500 19 21.500 H5 Q3 21.500 3 19.500 Z M8.500 21.500 V13 H15.500 V21.500"/></svg>
<div class="tab" id="t1" style="left:217px;color:#4a5160">Performance</div>
<svg style="left:308.43px;top:344.43px;width:16.05px;height:15.45px" viewBox="3 2 18 20" preserveAspectRatio="none" fill="none" stroke="#2f55b8" stroke-width="1.45" stroke-linecap="round" stroke-linejoin="round" ><path vector-effect="non-scaling-stroke" d="M12 2 L21 6.500 V17.500 L12 22 L3 17.500 V6.500 Z M3 6.500 L12 11 L21 6.500 M12 11 V22 M7.500 4.250 L16.500 8.750"/></svg>
<div class="tab" id="t2" style="left:331px">Blocks</div>
<svg style="left:391.00px;top:345.80px;width:14.80px;height:13.40px" viewBox="1.5 4 21.0 16" preserveAspectRatio="none" fill="none" stroke="#2f55b8" stroke-width="1.6" stroke-linecap="round" stroke-linejoin="round" ><path vector-effect="non-scaling-stroke" d="M1.5 12 H6 L9 4 L14.500 20 L17.500 12 H22.500"/></svg>
<div class="tab" id="t3" style="left:413px;letter-spacing:-0.220px">Rewards</div>
<svg style="left:482.03px;top:346.33px;width:16.85px;height:12.95px" viewBox="1.5 2.5 25.0 19.5" preserveAspectRatio="none" fill="none" stroke="#2f55b8" stroke-width="1.45" stroke-linecap="round" stroke-linejoin="round" ><circle vector-effect="non-scaling-stroke" cx="10" cy="7" r="4.500"/><path vector-effect="non-scaling-stroke" d="M1.5 22 V20 C1.5 16.500 4 14.500 7 14.500 H13 C16 14.500 18.500 16.500 18.500 20 V22 M18.500 2.800 A4.500 4.500 0 0 1 18.500 11.200 M22 14.800 C24.500 15.500 26.500 17.500 26.500 20 V22"/></svg>
<div class="tab" id="t4" style="left:505.200px;letter-spacing:0.130px">Delegators</div>
<svg style="left:588.52px;top:345.12px;width:12.15px;height:14.95px" viewBox="3 2 16 20" preserveAspectRatio="none" fill="none" stroke="#2f55b8" stroke-width="1.45" stroke-linecap="round" stroke-linejoin="round" ><path vector-effect="non-scaling-stroke" d="M3 19.500 V4.500 A2.500 2.500 0 0 1 5.500 2 H19 V22 H5.500 A2.500 2.500 0 0 1 3 19.500 A2.500 2.500 0 0 1 5.500 17 H19"/></svg>
<div class="tab" id="t5" style="left:609.800px;letter-spacing:0.300px">About</div>
<svg style="left:668.73px;top:345.12px;width:13.35px;height:14.95px" viewBox="3 2 18 20" preserveAspectRatio="none" fill="none" stroke="#2f55b8" stroke-width="1.45" stroke-linecap="round" stroke-linejoin="round" ><circle vector-effect="non-scaling-stroke" cx="18" cy="5" r="3"/><circle vector-effect="non-scaling-stroke" cx="6" cy="12" r="3"/><circle vector-effect="non-scaling-stroke" cx="18" cy="19" r="3"/><path vector-effect="non-scaling-stroke" d="M8.600 10.500 L15.400 6.500 M8.600 13.500 L15.400 17.500"/></svg>
<div class="tab" id="t6" style="left:690.500px;letter-spacing:-0.330px">Share</div>
<svg style="left:747.43px;top:344.43px;width:10.85px;height:16.65px" viewBox="1.5 1.5 15.0 23.0" preserveAspectRatio="none" fill="none" stroke="#2f55b8" stroke-width="1.45" stroke-linecap="round" stroke-linejoin="round" ><circle vector-effect="non-scaling-stroke" cx="9" cy="9" r="7.500"/><path vector-effect="non-scaling-stroke" d="M4.500 15 V24.500 L9 21.500 L13.500 24.500 V15"/></svg>
<div class="tab" id="t7" style="left:768px">Awards</div>
<svg style="left:832.12px;top:345.12px;width:14.65px;height:14.15px" viewBox="2 2 20 19" preserveAspectRatio="none" fill="none" stroke="#6fd86a" stroke-width="1.45" stroke-linecap="round" stroke-linejoin="round" ><path vector-effect="non-scaling-stroke" d="M12 2 L15.100 8.300 L22 9.300 L17 14.100 L18.200 21 L12 17.800 L5.800 21 L7 14.100 L2 9.300 L8.900 8.300 Z"/></svg>
<div class="tab" id="t8" style="left:854.500px;letter-spacing:0.120px">Promote</div>

</div>

<!-- CHART CARD -->
<div class="card" id="chartcard" style="left:180px;top:368.5px;width:838.5px;height:260px;border-radius:4px 4px 0 0;border-color:#eef0f5"></div>

<!-- CHART -->
<svg id="chart" style="left:0;top:0;width:1024px;height:591px;overflow:hidden;z-index:2" viewBox="0 0 1024 591">
<defs><clipPath id="cc"><rect x="213.500" y="430" width="795" height="170"/></clipPath></defs>
<g clip-path="url(#cc)"><circle cx="267.500" cy="572" r="58" fill="#d9293a" opacity="0.130"/><path d="M251 600 L267.800 536 L284.500 600 M245 566.500 H286.500 M245 577.500 H286.500" fill="none" stroke="#fff" stroke-width="5.500" opacity="0.900"/><text x="340" y="611" font-family="Liberation Sans, sans-serif" font-weight="bold" font-size="101" letter-spacing="2.500" fill="none" stroke="#8a8a8a" stroke-width="0.900" opacity="0.160">Cexplorer.io</text></g>
<rect x="214" y="435.0" width="793.500" height="1" fill="#c7c7ca"/>
<rect x="214" y="468.5" width="793.500" height="1" fill="#c7c7ca"/>
<rect x="214" y="502.5" width="793.500" height="1" fill="#c7c7ca"/>
<rect x="214" y="536.5" width="793.500" height="1" fill="#c7c7ca"/>
<rect x="214" y="570.5" width="793.500" height="1" fill="#c7c7ca"/>
<g clip-path="url(#cc)">
<polygon points="540.00,600.00 541.25,591.00 545.00,566.25 549.25,563.75 559.25,568.50 570.00,559.25 576.25,561.75 585.00,553.00 590.00,539.25 592.50,523.00 595.00,505.00 598.25,504.25 603.75,491.75 608.00,481.75 612.50,479.25 617.50,478.50 625.00,471.75 632.00,464.25 636.25,455.50 640.30,441.50 643.75,451.75 648.75,459.25 660.00,470.50 675.00,476.75 685.00,482.50 694.25,487.50 698.75,500.50 703.75,504.25 720.00,508.00 725.00,496.00 733.75,500.50 738.75,496.75 748.75,494.25 760.00,496.75 777.50,499.25 802.50,502.25 840.00,500.50 885.00,502.25 893.00,502.50 928.00,504.25 940.50,503.00 951.75,498.50 959.25,493.00 965.50,484.25 968.75,480.50 985.50,483.50 1005.00,488.00 1005.00,600.00" fill="#5a9499" fill-opacity="0.190"/>
<polyline points="541.25,591.00 545.00,566.25 549.25,563.75 559.25,568.50 570.00,559.25 576.25,561.75 585.00,553.00 590.00,539.25 592.50,523.00 595.00,505.00 598.25,504.25 603.75,491.75 608.00,481.75 612.50,479.25 617.50,478.50 625.00,471.75 632.00,464.25 636.25,455.50 640.30,441.50 643.75,451.75 648.75,459.25 660.00,470.50 675.00,476.75 685.00,482.50 694.25,487.50 698.75,500.50 703.75,504.25 720.00,508.00 725.00,496.00 733.75,500.50 738.75,496.75 748.75,494.25 760.00,496.75 777.50,499.25 802.50,502.25 840.00,500.50 885.00,502.25 893.00,502.50 928.00,504.25 940.50,503.00 951.75,498.50 959.25,493.00 965.50,484.25 968.75,480.50 985.50,483.50 1005.00,488.00" fill="none" stroke="#5b959a" stroke-width="2.100" stroke-linejoin="round"/>
<polyline points="220.00,600.00 220.50,559.00 333.75,555.50 338.00,551.00 401.25,548.00 405.60,480.00 409.50,478.60 563.25,470.20 568.00,497.40 676.00,491.80 810.00,486.60 1005.00,476.00" fill="none" stroke="#cdcb7a" stroke-width="2" stroke-linejoin="round"/>
<rect x="299.3" y="551.6" width="3.400" height="48.4" fill="#b86a5e" fill-opacity="0.095"/>
<rect x="304.6" y="581.0" width="3.400" height="19.0" fill="#b86a5e" fill-opacity="0.095"/>
<rect x="308.5" y="552.0" width="3.400" height="48.0" fill="#b86a5e" fill-opacity="0.095"/>
<rect x="516.3" y="527.0" width="3.400" height="73.0" fill="#b86a5e" fill-opacity="0.095"/>
<rect x="547.8" y="513.8" width="3.400" height="86.2" fill="#b86a5e" fill-opacity="0.095"/>
<rect x="565.8" y="516.8" width="3.400" height="83.2" fill="#b86a5e" fill-opacity="0.095"/>
<rect x="575.0" y="506.8" width="3.400" height="93.2" fill="#b86a5e" fill-opacity="0.095"/>
<rect x="583.8" y="498.5" width="3.400" height="101.5" fill="#b86a5e" fill-opacity="0.095"/>
<rect x="611.3" y="493.8" width="3.400" height="106.2" fill="#b86a5e" fill-opacity="0.095"/>
<rect x="728.3" y="452.5" width="3.400" height="147.5" fill="#b86a5e" fill-opacity="0.095"/>
<rect x="522.3" y="552.8" width="3.400" height="47.2" fill="#b86a5e" fill-opacity="0.095"/>
<rect x="527.3" y="556.7" width="3.400" height="43.3" fill="#b86a5e" fill-opacity="0.095"/>
<rect x="531.8" y="539.0" width="3.400" height="61.0" fill="#b86a5e" fill-opacity="0.095"/>
<rect x="539.8" y="540.2" width="3.400" height="59.8" fill="#b86a5e" fill-opacity="0.095"/>
<rect x="560.3" y="546.8" width="3.400" height="53.2" fill="#b86a5e" fill-opacity="0.095"/>
<rect x="591.8" y="565.3" width="3.400" height="34.7" fill="#b86a5e" fill-opacity="0.095"/>
<rect x="596.3" y="580.5" width="3.400" height="19.5" fill="#b86a5e" fill-opacity="0.095"/>
<rect x="600.8" y="581.6" width="3.400" height="18.4" fill="#b86a5e" fill-opacity="0.095"/>
<rect x="619.8" y="557.9" width="3.400" height="42.1" fill="#b86a5e" fill-opacity="0.095"/>
<rect x="624.3" y="557.5" width="3.400" height="42.5" fill="#b86a5e" fill-opacity="0.095"/>
<rect x="630.8" y="523.2" width="3.400" height="76.8" fill="#b86a5e" fill-opacity="0.095"/>
<rect x="635.8" y="523.0" width="3.400" height="77.0" fill="#b86a5e" fill-opacity="0.095"/>
<rect x="640.8" y="538.8" width="3.400" height="61.2" fill="#b86a5e" fill-opacity="0.095"/>
<rect x="645.8" y="555.1" width="3.400" height="44.9" fill="#b86a5e" fill-opacity="0.095"/>
<rect x="653.8" y="540.1" width="3.400" height="59.9" fill="#b86a5e" fill-opacity="0.095"/>
<rect x="663.3" y="531.7" width="3.400" height="68.3" fill="#b86a5e" fill-opacity="0.095"/>
<rect x="671.3" y="557.1" width="3.400" height="42.9" fill="#b86a5e" fill-opacity="0.095"/>
<rect x="676.3" y="544.2" width="3.400" height="55.8" fill="#b86a5e" fill-opacity="0.095"/>
<rect x="684.3" y="566.3" width="3.400" height="33.7" fill="#b86a5e" fill-opacity="0.095"/>
<rect x="692.3" y="561.8" width="3.400" height="38.2" fill="#b86a5e" fill-opacity="0.095"/>
<rect x="697.3" y="574.9" width="3.400" height="25.1" fill="#b86a5e" fill-opacity="0.095"/>
<rect x="705.3" y="572.8" width="3.400" height="27.2" fill="#b86a5e" fill-opacity="0.095"/>
<rect x="710.8" y="574.0" width="3.400" height="26.0" fill="#b86a5e" fill-opacity="0.095"/>
<rect x="717.3" y="570.8" width="3.400" height="29.2" fill="#b86a5e" fill-opacity="0.095"/>
<rect x="722.3" y="583.8" width="3.400" height="16.2" fill="#b86a5e" fill-opacity="0.095"/>
<rect x="736.8" y="534.7" width="3.400" height="65.3" fill="#b86a5e" fill-opacity="0.095"/>
<rect x="742.3" y="560.5" width="3.400" height="39.5" fill="#b86a5e" fill-opacity="0.095"/>
<rect x="747.8" y="572.3" width="3.400" height="27.7" fill="#b86a5e" fill-opacity="0.095"/>
<rect x="753.3" y="565.3" width="3.400" height="34.7" fill="#b86a5e" fill-opacity="0.095"/>
<rect x="757.8" y="536.8" width="3.400" height="63.2" fill="#b86a5e" fill-opacity="0.095"/>
<rect x="764.3" y="539.6" width="3.400" height="60.4" fill="#b86a5e" fill-opacity="0.095"/>
<rect x="769.8" y="538.8" width="3.400" height="61.2" fill="#b86a5e" fill-opacity="0.095"/>
<rect x="776.3" y="554.5" width="3.400" height="45.5" fill="#b86a5e" fill-opacity="0.095"/>
<rect x="785.8" y="534.5" width="3.400" height="65.5" fill="#b86a5e" fill-opacity="0.095"/>
<rect x="793.8" y="563.2" width="3.400" height="36.8" fill="#b86a5e" fill-opacity="0.095"/>
<rect x="799.3" y="549.7" width="3.400" height="50.3" fill="#b86a5e" fill-opacity="0.095"/>
<rect x="804.8" y="564.5" width="3.400" height="35.5" fill="#b86a5e" fill-opacity="0.095"/>
<rect x="812.8" y="576.2" width="3.400" height="23.8" fill="#b86a5e" fill-opacity="0.095"/>
<rect x="817.3" y="578.7" width="3.400" height="21.3" fill="#b86a5e" fill-opacity="0.095"/>
<rect x="822.8" y="557.5" width="3.400" height="42.5" fill="#b86a5e" fill-opacity="0.095"/>
<rect x="832.3" y="533.8" width="3.400" height="66.2" fill="#b86a5e" fill-opacity="0.095"/>
<rect x="841.8" y="570.7" width="3.400" height="29.3" fill="#b86a5e" fill-opacity="0.095"/>
<rect x="851.3" y="563.5" width="3.400" height="36.5" fill="#b86a5e" fill-opacity="0.095"/>
<rect x="860.8" y="577.7" width="3.400" height="22.3" fill="#b86a5e" fill-opacity="0.095"/>
<rect x="866.3" y="571.6" width="3.400" height="28.4" fill="#b86a5e" fill-opacity="0.095"/>
<rect x="875.8" y="550.1" width="3.400" height="49.9" fill="#b86a5e" fill-opacity="0.095"/>
<rect x="882.3" y="550.6" width="3.400" height="49.4" fill="#b86a5e" fill-opacity="0.095"/>
<rect x="890.3" y="536.8" width="3.400" height="63.2" fill="#b86a5e" fill-opacity="0.095"/>
<rect x="894.8" y="542.7" width="3.400" height="57.3" fill="#b86a5e" fill-opacity="0.095"/>
<rect x="900.3" y="537.5" width="3.400" height="62.5" fill="#b86a5e" fill-opacity="0.095"/>
<rect x="905.3" y="553.1" width="3.400" height="46.9" fill="#b86a5e" fill-opacity="0.095"/>
<rect x="911.8" y="534.7" width="3.400" height="65.3" fill="#b86a5e" fill-opacity="0.095"/>
<rect x="918.3" y="553.3" width="3.400" height="46.7" fill="#b86a5e" fill-opacity="0.095"/>
<rect x="923.8" y="581.2" width="3.400" height="18.8" fill="#b86a5e" fill-opacity="0.095"/>
<rect x="930.3" y="580.1" width="3.400" height="19.9" fill="#b86a5e" fill-opacity="0.095"/>
<rect x="935.8" y="571.0" width="3.400" height="29.0" fill="#b86a5e" fill-opacity="0.095"/>
<rect x="941.3" y="569.6" width="3.400" height="30.4" fill="#b86a5e" fill-opacity="0.095"/>
<rect x="947.8" y="585.5" width="3.400" height="14.5" fill="#b86a5e" fill-opacity="0.095"/>
<rect x="952.8" y="495.8" width="3.400" height="104.2" fill="#b86a5e" fill-opacity="0.095"/>
<rect x="957.8" y="506.2" width="3.400" height="93.8" fill="#b86a5e" fill-opacity="0.095"/>
<rect x="962.8" y="490.8" width="3.400" height="109.2" fill="#b86a5e" fill-opacity="0.095"/>
<rect x="970.8" y="502.8" width="3.400" height="97.2" fill="#b86a5e" fill-opacity="0.095"/>
<rect x="976.3" y="490.3" width="3.400" height="109.7" fill="#b86a5e" fill-opacity="0.095"/>
<rect x="982.8" y="527.4" width="3.400" height="72.6" fill="#b86a5e" fill-opacity="0.095"/>
<rect x="990.8" y="529.6" width="3.400" height="70.4" fill="#b86a5e" fill-opacity="0.095"/>
<rect x="995.8" y="538.3" width="3.400" height="61.7" fill="#b86a5e" fill-opacity="0.095"/>
<polygon points="290.00,600.00 293.00,475.00 297.50,474.50 306.75,467.00 311.25,467.00 312.50,538.00 313.25,600.00" fill="#7fdc62" fill-opacity="0.240"/>
<polyline points="290.00,600.00 293.00,475.00 297.50,474.50 306.75,467.00 311.25,467.00 312.50,538.00 313.25,600.00" fill="none" stroke="#6fe155" stroke-width="2.100" stroke-linejoin="round"/>
<polygon points="455.00,600.00 463.75,589.00 468.75,586.50 470.00,600.00" fill="#7fdc62" fill-opacity="0.240"/>
<polyline points="455.00,600.00 463.75,589.00 468.75,586.50 470.00,600.00" fill="none" stroke="#6fe155" stroke-width="2.100" stroke-linejoin="round"/>
<polygon points="503.00,600.00 505.00,591.00 510.00,571.75 518.75,559.25 530.00,553.00 537.50,546.75 541.25,540.50 545.00,526.00 550.00,527.25 555.00,525.50 558.75,523.50 563.25,529.25 570.00,526.00 576.25,525.50 581.25,528.50 586.25,526.25 590.75,530.00 594.25,521.75 600.00,520.50 608.75,515.50 618.75,514.25 622.50,517.50 627.50,515.50 631.25,516.75 640.00,511.75 643.75,523.00 648.75,538.00 653.75,545.50 661.25,559.25 667.50,564.25 675.50,573.00 678.75,579.25 681.25,584.75 687.50,585.50 695.00,591.00 697.00,600.00" fill="#7fdc62" fill-opacity="0.240"/>
<polyline points="503.00,600.00 505.00,591.00 510.00,571.75 518.75,559.25 530.00,553.00 537.50,546.75 541.25,540.50 545.00,526.00 550.00,527.25 555.00,525.50 558.75,523.50 563.25,529.25 570.00,526.00 576.25,525.50 581.25,528.50 586.25,526.25 590.75,530.00 594.25,521.75 600.00,520.50 608.75,515.50 618.75,514.25 622.50,517.50 627.50,515.50 631.25,516.75 640.00,511.75 643.75,523.00 648.75,538.00 653.75,545.50 661.25,559.25 667.50,564.25 675.50,573.00 678.75,579.25 681.25,584.75 687.50,585.50 695.00,591.00 697.00,600.00" fill="none" stroke="#6fe155" stroke-width="2.100" stroke-linejoin="round"/>
<polygon points="721.00,600.00 721.75,591.00 725.50,468.00 730.00,476.75 733.75,506.75 736.25,516.75 742.50,524.25 748.75,521.25 752.50,523.50 757.50,535.50 761.25,540.50 766.25,540.00 771.25,545.50 776.25,548.00 787.50,549.25 793.50,554.75 798.00,554.75 806.50,546.75 820.00,546.00 825.50,545.00 841.75,543.50 855.50,545.00 875.50,545.50 893.00,544.25 900.50,545.00 906.75,542.25 918.00,543.75 933.00,543.00 938.00,541.00 945.50,540.00 951.75,533.50 956.75,526.75 960.50,518.00 965.50,500.50 969.25,489.25 973.00,485.50 980.50,486.75 988.00,486.00 991.75,488.00 996.00,481.75 999.25,486.75 1005.00,488.00 1005.00,600.00" fill="#7fdc62" fill-opacity="0.240"/>
<polyline points="721.00,600.00 721.75,591.00 725.50,468.00 730.00,476.75 733.75,506.75 736.25,516.75 742.50,524.25 748.75,521.25 752.50,523.50 757.50,535.50 761.25,540.50 766.25,540.00 771.25,545.50 776.25,548.00 787.50,549.25 793.50,554.75 798.00,554.75 806.50,546.75 820.00,546.00 825.50,545.00 841.75,543.50 855.50,545.00 875.50,545.50 893.00,544.25 900.50,545.00 906.75,542.25 918.00,543.75 933.00,543.00 938.00,541.00 945.50,540.00 951.75,533.50 956.75,526.75 960.50,518.00 965.50,500.50 969.25,489.25 973.00,485.50 980.50,486.75 988.00,486.00 991.75,488.00 996.00,481.75 999.25,486.75 1005.00,488.00" fill="none" stroke="#6fe155" stroke-width="2.100" stroke-linejoin="round"/>
<polyline points="220.90,600.00 226.40,529.00 230.40,600.00 255.20,600.00 258.15,452.00 261.60,600.00 268.20,600.00 271.40,526.75 274.20,600.00 278.70,600.00 284.90,445.75 291.10,600.00 313.90,600.00 316.65,569.00 319.40,600.00 323.60,600.00 325.40,585.75 327.20,600.00 361.40,600.00 365.40,566.75 369.10,600.00 417.90,600.00 419.65,581.00 421.40,600.00 427.90,600.00 430.15,579.25 433.40,581.25 435.10,600.00 446.20,600.00 447.65,588.50 449.10,600.00 476.90,600.00 478.40,587.00 479.90,600.00 499.90,600.00 501.40,587.00 502.90,600.00 517.70,600.00 519.15,586.50 520.60,600.00 705.70,600.00 708.40,566.75 711.10,600.00 912.20,600.00 915.15,581.25 918.10,600.00" fill="none" stroke="#f3dc8a" stroke-width="1" stroke-linejoin="miter" opacity="0.900"/>
<polyline points="220.00,600.00 225.50,527.00 229.50,600.00 254.30,600.00 257.25,450.00 260.70,600.00 267.30,600.00 270.50,524.75 273.30,600.00 277.80,600.00 284.00,443.75 290.20,600.00 313.00,600.00 315.75,567.00 318.50,600.00 322.70,600.00 324.50,583.75 326.30,600.00 360.50,600.00 364.50,564.75 368.20,600.00 417.00,600.00 418.75,579.00 420.50,600.00 427.00,600.00 429.25,577.25 432.50,579.25 434.20,600.00 445.30,600.00 446.75,586.50 448.20,600.00 476.00,600.00 477.50,585.00 479.00,600.00 499.00,600.00 500.50,585.00 502.00,600.00 516.80,600.00 518.25,584.50 519.70,600.00 704.80,600.00 707.50,564.75 710.20,600.00 911.30,600.00 914.25,579.25 917.20,600.00" fill="none" stroke="#b38391" stroke-width="1.600" stroke-linejoin="miter"/>
</g>
<text transform="translate(205.300,593.500) rotate(-90)" font-family="Liberation Sans, sans-serif" font-weight="bold" font-size="11.500" fill="#3a3a3a">Amount</text>
<polygon points="354.5,425.5 359.5,415 364.5,425.5" fill="#7de868"/>
<text id="lg1" x="368.5" y="424.300" textLength="95.5" lengthAdjust="spacingAndGlyphs" font-family="Liberation Sans, sans-serif" font-weight="bold" font-size="11.800" fill="#333" letter-spacing="-0.150">Active Stake (k₳)</text>
<polygon points="474.5,425.5 479.5,415 484.5,425.5" fill="#f3c646"/>
<text id="lg2" x="488.5" y="424.300" textLength="43" lengthAdjust="spacingAndGlyphs" font-family="Liberation Sans, sans-serif" font-weight="bold" font-size="11.800" fill="#333" letter-spacing="-0.150">ROA (%)</text>
<rect x="544" y="415" width="10.500" height="10.500" fill="#d98a78"/>
<text id="lg3" x="558.5" y="424.300" textLength="34.5" lengthAdjust="spacingAndGlyphs" font-family="Liberation Sans, sans-serif" font-weight="bold" font-size="11.800" fill="#333" letter-spacing="-0.150">Blocks</text>
<polygon points="605,425.5 610.2,415 615.5,425.5" fill="#6ba3a3"/>
<text id="lg4" x="619.5" y="424.300" textLength="58" lengthAdjust="spacingAndGlyphs" font-family="Liberation Sans, sans-serif" font-weight="bold" font-size="11.800" fill="#333" letter-spacing="-0.150">Delegators</text>
<rect x="688" y="419" width="13.500" height="2" fill="#b98c97"/>
<text id="lg5" x="705" y="424.300" textLength="46.25" lengthAdjust="spacingAndGlyphs" font-family="Liberation Sans, sans-serif" font-weight="bold" font-size="11.800" fill="#333" letter-spacing="-0.150">Luck (%)</text>
<rect x="763.200" y="419" width="13.500" height="2" fill="#cfcd7a"/>
<text id="lg6" x="780.5" y="424.300" textLength="65" lengthAdjust="spacingAndGlyphs" font-family="Liberation Sans, sans-serif" font-weight="bold" font-size="11.800" fill="#333" letter-spacing="-0.150">Pledged (₳)</text>
</svg>
<div class="abs" id="ptitle" style="left:196px;top:384px;font-size:18px;line-height:22px;font-weight:normal;-webkit-text-stroke:0.550px #131a2b;color:#131a2b;letter-spacing:0.150px;z-index:3">Pool Performance</div>

<!-- /CHART -->
</div>
</body>
</html>
